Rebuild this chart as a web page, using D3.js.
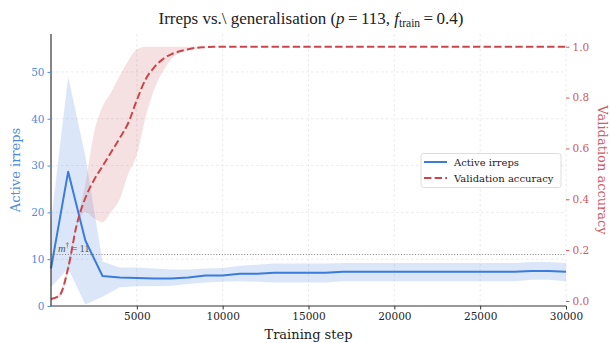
<!DOCTYPE html>
<html>
<head>
<meta charset="utf-8">
<script src="https://cdn.jsdelivr.net/npm/d3@7"></script>
<style>
  body { margin: 0; background: #fff; }
  svg { display: block; }
</style>
</head>
<body>
<svg id="chart" width="610" height="343"></svg>
<script>
// ---- data ----------------------------------------------------------------
// Active irreps, averaged over seeds, logged every 1000 steps
const irrepSteps = [0, 1000, 2000, 3000, 4000, 5000, 6000, 7000, 8000, 9000, 10000,
  11000, 12000, 13000, 14000, 15000, 16000, 17000, 18000, 19000, 20000,
  21000, 22000, 23000, 24000, 25000, 26000, 27000, 28000, 29000, 30000];
const irrepMean = [8.0, 28.7, 14.0, 6.4, 6.1, 6.0, 5.9, 5.9, 6.1, 6.5, 6.5,
  6.9, 6.9, 7.1, 7.1, 7.1, 7.1, 7.3, 7.3, 7.3, 7.3,
  7.3, 7.3, 7.3, 7.3, 7.3, 7.3, 7.3, 7.5, 7.5, 7.3];
const irrepLow = [4.0, 8.0, 0.3, 2.0, 4.0, 4.2, 4.2, 4.3, 4.7, 5.0, 5.2,
  5.3, 5.2, 5.0, 5.0, 5.0, 5.0, 5.3, 5.3, 5.3, 5.3,
  5.3, 5.3, 5.3, 5.3, 5.3, 5.3, 5.3, 5.6, 5.6, 5.3];
const irrepHigh = [18.0, 49.0, 32.0, 9.5, 8.2, 8.2, 8.0, 7.8, 7.8, 8.0, 8.1,
  8.6, 8.8, 9.1, 9.1, 9.1, 9.1, 9.2, 9.2, 9.2, 9.2,
  9.2, 9.2, 9.2, 9.2, 9.2, 9.2, 9.2, 9.4, 9.4, 9.2];

// Validation accuracy, logged every 500 steps early on, then every 1000
const accSteps = [0, 500, 1000, 1500, 2000, 2500, 3000, 3500, 4000, 4500, 5000,
  5500, 6000, 6500, 7000, 7500, 8000, 8500, 9000, 9500, 10000,
  11000, 12000, 13000, 14000, 15000, 16000, 17000, 18000, 19000, 20000,
  21000, 22000, 23000, 24000, 25000, 26000, 27000, 28000, 29000, 30000];
const accMean = [0.008, 0.022, 0.13, 0.30, 0.405, 0.475, 0.53, 0.585, 0.64, 0.70, 0.79,
  0.87, 0.918, 0.95, 0.97, 0.982, 0.99, 0.996, 0.998, 1.0, 1.0,
  1.0, 1.0, 1.0, 1.0, 1.0, 1.0, 1.0, 1.0, 1.0, 1.0,
  1.0, 1.0, 1.0, 1.0, 1.0, 1.0, 1.0, 1.0, 1.0, 1.0];
const accLow = [0.004, 0.014, 0.11, 0.29, 0.35, 0.325, 0.31, 0.35, 0.40, 0.50, 0.575,
  0.72, 0.83, 0.90, 0.95, 0.975, 0.985, 0.993, 0.997, 1.0, 1.0,
  1.0, 1.0, 1.0, 1.0, 1.0, 1.0, 1.0, 1.0, 1.0, 1.0,
  1.0, 1.0, 1.0, 1.0, 1.0, 1.0, 1.0, 1.0, 1.0, 1.0];
const accHigh = [0.012, 0.03, 0.15, 0.31, 0.46, 0.66, 0.765, 0.82, 0.885, 0.945, 0.99,
  1.0, 1.0, 1.0, 1.0, 1.0, 1.0, 1.0, 1.0, 1.0, 1.0,
  1.0, 1.0, 1.0, 1.0, 1.0, 1.0, 1.0, 1.0, 1.0, 1.0,
  1.0, 1.0, 1.0, 1.0, 1.0, 1.0, 1.0, 1.0, 1.0, 1.0];

const mDagger = 11;  // reference level for the irreps count

const xTicks = [5000, 10000, 15000, 20000, 25000, 30000];
const leftTicks = [0, 10, 20, 30, 40, 50];
const rightTicks = [0.0, 0.2, 0.4, 0.6, 0.8, 1.0];

// ---- layout / style ---------------------------------------------------------
const svg = d3.select("#chart");
const plotL = 51, plotR = 566, plotT = 34, plotB = 306;
const BLUE = "#3a7bdb", BLUE_TXT = "#4f8ae4";
const RED = "#c9474c", RED_TXT = "#cf5a5f";
const SERIF = "'DejaVu Serif', serif";
const TIMES = "'Liberation Serif', 'Times New Roman', serif";

const x = d3.scaleLinear().domain([0, 30000]).range([plotL, plotR]);
const yL = d3.scaleLinear().domain([0, 58.1]).range([plotB, plotT]);
const yR = d3.scaleLinear().domain([-0.0197, 1.0499]).range([plotB, plotT]);

const irreps = irrepSteps.map((s, i) => ({ s, m: irrepMean[i], lo: irrepLow[i], hi: irrepHigh[i] }));
const acc = accSteps.map((s, i) => ({ s, m: accMean[i], lo: accLow[i], hi: accHigh[i] }));

// grid
const grid = svg.append("g").attr("stroke", "#e6e6e6").attr("stroke-width", 0.8)
  .attr("stroke-dasharray", "2.5,2.5");
grid.selectAll("line.v").data(xTicks).join("line").attr("class", "v")
  .attr("x1", d => x(d)).attr("x2", d => x(d)).attr("y1", plotT).attr("y2", plotB);
grid.selectAll("line.h").data(leftTicks.filter(d => d > 0)).join("line").attr("class", "h")
  .attr("x1", plotL).attr("x2", plotR).attr("y1", d => yL(d)).attr("y2", d => yL(d));

// irreps band
svg.append("path").datum(irreps)
  .attr("fill", BLUE).attr("fill-opacity", 0.18)
  .attr("d", d3.area().x(d => x(d.s)).y0(d => yL(d.lo)).y1(d => yL(d.hi)));

// m-dagger reference line
svg.append("line")
  .attr("x1", plotL).attr("x2", plotR).attr("y1", yL(mDagger)).attr("y2", yL(mDagger))
  .attr("stroke", "#777").attr("stroke-width", 0.9).attr("stroke-dasharray", "1,1.8");
const mLab = svg.append("text").attr("x", 58).attr("y", yL(mDagger) - 3)
  .attr("font-family", TIMES).attr("font-size", 10.5).attr("fill", "#555");
mLab.append("tspan").attr("font-style", "italic").text("m");
mLab.append("tspan").attr("font-size", 7.5).attr("dy", -4).text("\u2020");
mLab.append("tspan").attr("dy", 4).text("\u2009=\u200911");

// irreps mean line
svg.append("path").datum(irreps)
  .attr("fill", "none").attr("stroke", BLUE).attr("stroke-width", 2)
  .attr("stroke-linejoin", "round")
  .attr("d", d3.line().x(d => x(d.s)).y(d => yL(d.m)));

// accuracy band + dashed line (twin axis, drawn above)
svg.append("path").datum(acc)
  .attr("fill", RED).attr("fill-opacity", 0.16)
  .attr("d", d3.area().curve(d3.curveMonotoneX).x(d => x(d.s)).y0(d => yR(d.lo)).y1(d => yR(d.hi)));
svg.append("path").datum(acc)
  .attr("fill", "none").attr("stroke", RED).attr("stroke-width", 2)
  .attr("stroke-dasharray", "7.4,3.2")
  .attr("d", d3.line().curve(d3.curveMonotoneX).x(d => x(d.s)).y(d => yR(d.m)));

// axes
const xAxis = svg.append("g").attr("transform", `translate(0,${plotB})`)
  .call(d3.axisBottom(x).tickValues(xTicks).tickFormat(d3.format("d")).tickSizeOuter(0).tickSize(3.5).tickPadding(3));
xAxis.select(".domain").attr("stroke", "#333").attr("stroke-width", 1.2).attr("d", `M${plotL},0H${plotR}`);
xAxis.selectAll(".tick line").attr("stroke", "#333");
xAxis.selectAll("text").attr("font-family", SERIF).attr("font-size", 10.5).attr("fill", "#222");

const yAxisL = svg.append("g").attr("transform", `translate(${plotL},0)`)
  .call(d3.axisLeft(yL).tickValues(leftTicks).tickSizeOuter(0).tickSize(3.5).tickPadding(3));
yAxisL.select(".domain").attr("stroke", "#333").attr("stroke-width", 1.2).attr("d", `M0,${plotT}V${plotB}`);
yAxisL.selectAll(".tick line").attr("stroke", BLUE_TXT);
yAxisL.selectAll("text").attr("font-family", SERIF).attr("font-size", 10.5).attr("fill", BLUE_TXT);

const yAxisR = svg.append("g").attr("transform", `translate(${plotR},0)`)
  .call(d3.axisRight(yR).tickValues(rightTicks).tickFormat(d3.format(".1f")).tickSizeOuter(0).tickSize(3.5).tickPadding(3));
yAxisR.select(".domain").remove();
yAxisR.selectAll(".tick line").attr("stroke", RED_TXT);
yAxisR.selectAll("text").attr("font-family", SERIF).attr("font-size", 10.5).attr("fill", RED_TXT);

// axis titles
svg.append("text").attr("x", (plotL + plotR) / 2).attr("y", 339).attr("text-anchor", "middle")
  .attr("font-family", SERIF).attr("font-size", 13).attr("fill", "#222").text("Training step");
svg.append("text").attr("transform", `translate(20,${(plotT + plotB) / 2}) rotate(-90)`)
  .attr("text-anchor", "middle").attr("font-family", SERIF).attr("font-size", 13)
  .attr("fill", BLUE_TXT).text("Active irreps");
svg.append("text").attr("transform", `translate(598,${(plotT + plotB) / 2}) rotate(90)`)
  .attr("text-anchor", "middle").attr("font-family", SERIF).attr("font-size", 13)
  .attr("fill", RED_TXT).text("Validation accuracy");

// title
const title = svg.append("text").attr("x", 311).attr("y", 24).attr("text-anchor", "middle")
  .attr("font-family", TIMES).attr("font-size", 17).attr("fill", "#222");
title.append("tspan").text("Irreps vs.\\ generalisation (");
title.append("tspan").attr("font-style", "italic").text("p");
title.append("tspan").text("\u2009=\u2009113, ");
title.append("tspan").attr("font-style", "italic").text("f");
title.append("tspan").attr("font-size", 11.5).attr("dy", 3).text("train");
title.append("tspan").attr("dy", -3).text("\u2009=\u20090.4)");

// legend
const lg = svg.append("g");
lg.append("rect").attr("x", 421).attr("y", 153.5).attr("width", 140).attr("height", 34).attr("rx", 2.5)
  .attr("fill", "#fff").attr("fill-opacity", 0.85).attr("stroke", "#d4d4d4").attr("stroke-width", 0.8);
const entries = [
  { label: "Active irreps", color: BLUE, dash: null },
  { label: "Validation accuracy", color: RED, dash: "7.4,3.2" }
];
entries.forEach((e, i) => {
  const cy = 162 + i * 16;
  lg.append("line").attr("x1", 424).attr("x2", 447).attr("y1", cy).attr("y2", cy)
    .attr("stroke", e.color).attr("stroke-width", 2).attr("stroke-dasharray", e.dash);
  lg.append("text").attr("x", 454).attr("y", cy + 3.5).attr("font-family", SERIF)
    .attr("font-size", 10).attr("fill", "#222").text(e.label);
});
</script>
</body>
</html>
